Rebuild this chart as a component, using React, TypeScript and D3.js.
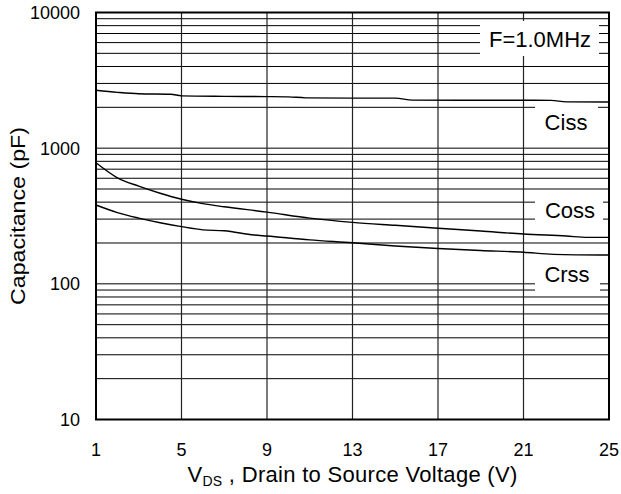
import React from "react";
import * as d3 from "d3";

const xTicks = [1, 5, 9, 13, 17, 21, 25];
const yTicks = [10, 100, 1000, 10000];

const cissV = [1, 2, 3, 4.5, 5, 7, 9, 10, 10.8, 13, 15, 15.8, 18, 21, 22.3, 23, 25];
const cissC = [2670, 2580, 2520, 2500, 2430, 2410, 2400, 2390, 2350, 2340, 2340, 2260, 2255, 2255, 2250, 2195, 2190];

const cossV = [1, 2, 3, 4, 5, 6, 7, 9, 11, 13, 15, 17, 19, 21, 23, 24, 25];
const cossC = [780, 605, 525, 465, 420, 390, 370, 338, 305, 284, 270, 257, 245, 233, 225, 220, 220];

const crssV = [1, 2, 3, 4, 5, 6, 7, 8.4, 9, 11, 13, 15, 17, 19, 21, 22.4, 25];
const crssC = [381, 335, 305, 282, 264, 250, 246, 229, 225, 211, 201, 190, 182, 176, 171, 165, 163];

const seriesLabels = ["Ciss", "Coss", "Crss"];
const freqLabel = "F=1.0MHz";

const W = 621;
const H = 494;
const L = 96, R = 609, T = 12.5, B = 419.5;

export default function App() {
  const x = d3.scaleLinear().domain([1, 25]).range([L, R]);
  const y = d3.scaleLog().domain([10, 10000]).range([B, T]);

  const minor: number[] = [];
  [10, 100, 1000].forEach((k) => {
    for (let m = 1; m <= 9; m++) {
      if (m === 1 && k === 10) continue;
      minor.push(m * k);
    }
  });

  const line = d3
    .line<[number, number]>()
    .x((d) => x(d[0]))
    .y((d) => y(d[1]))
    .curve(d3.curveMonotoneX);

  const mk = (v: number[], c: number[]) => v.map((vv, i) => [vv, c[i]] as [number, number]);
  const series = [mk(cissV, cissC), mk(cossV, cossC), mk(crssV, crssC)];

  const font = "'Liberation Sans', Arial, Helvetica, sans-serif";

  const boxes = [
    { x0: 480, x1: 599, y0: 21, y1: 56, text: freqLabel, tx: 540, ty: 46.5 },
    { x0: 535, x1: 598, y0: 104, y1: 140, text: seriesLabels[0], tx: 566, ty: 130 },
    { x0: 535, x1: 603, y0: 193, y1: 226, text: seriesLabels[1], tx: 570, ty: 218 },
    { x0: 535, x1: 600, y0: 259, y1: 292, text: seriesLabels[2], tx: 567, ty: 282 },
  ];

  return (
    <svg width={W} height={H} style={{ display: "block", position: "absolute", left: 0, top: 0 }}>
      <rect x={0} y={0} width={W} height={H} fill="#fff" />
      {minor.map((v) => (
        <line key={"h" + v} x1={L} x2={R} y1={y(v)} y2={y(v)} stroke="#000" strokeWidth={1} />
      ))}
      {xTicks.slice(1, -1).map((v) => (
        <line key={"v" + v} x1={x(v)} x2={x(v)} y1={T} y2={B} stroke="#222" strokeWidth={1.2} />
      ))}
      {boxes.map((b, i) => (
        <rect key={"r" + i} x={b.x0} y={b.y0} width={b.x1 - b.x0} height={b.y1 - b.y0} fill="#fff" />
      ))}
      {series.map((s, i) => (
        <path key={"s" + i} d={line(s) || ""} fill="none" stroke="#000" strokeWidth={1.4} />
      ))}
      {boxes.map((b, i) => (
        <text key={"t" + i} x={b.tx} y={b.ty} textAnchor="middle" fontFamily={font} fontSize={22} fill="#000">
          {b.text}
        </text>
      ))}
      <rect x={L} y={T} width={R - L} height={B - T} fill="none" stroke="#000" strokeWidth={2} />
      {yTicks.map((v) => (
        <text key={"yt" + v} x={80} y={y(v) + 6.5} textAnchor="end" fontFamily={font} fontSize={18} fill="#000">
          {v}
        </text>
      ))}
      {xTicks.map((v) => (
        <text key={"xt" + v} x={x(v)} y={455.5} textAnchor="middle" fontFamily={font} fontSize={18} fill="#000">
          {v}
        </text>
      ))}
      <text
        transform={`translate(25,${(T + B) / 2}) rotate(-90)`}
        textAnchor="middle"
        fontFamily={font}
        fontSize={21}
        textLength={178}
        lengthAdjust="spacingAndGlyphs"
        fill="#000"
      >
        Capacitance (pF)
      </text>
      <text x={(L + R) / 2} y={481.5} textAnchor="middle" fontFamily={font} fontSize={22} letterSpacing={0.3} fill="#000">
        <tspan>V</tspan>
        <tspan fontSize={14} dy={4}>DS</tspan>
        <tspan dy={-4}>{" , Drain to Source Voltage (V)"}</tspan>
      </text>
    </svg>
  );
}
